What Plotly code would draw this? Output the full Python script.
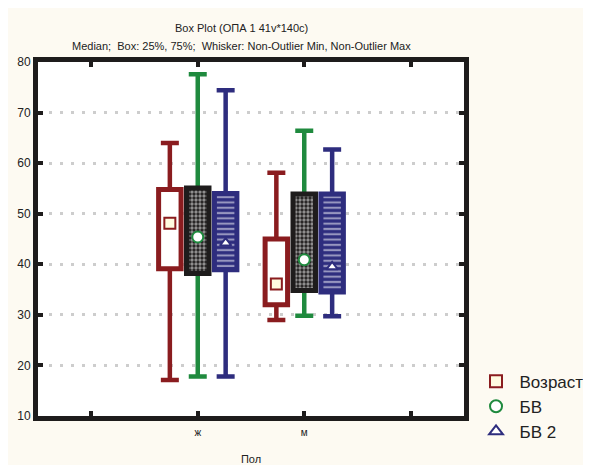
import plotly.graph_objects as go

# ---------------- data ----------------
categories = ["ж", "м"]
tick_labels = ["", "ж", "м", ""]
series_names = ["Возраст", "БВ", "БВ 2"]

age_median = [48.1, 36.1]
age_q1 = [39.1, 32.0]
age_q3 = [54.8, 45.0]
age_min = [17.1, 29.0]
age_max = [64.0, 58.1]

bv_median = [45.4, 40.9]
bv_q1 = [38.2, 34.8]
bv_q3 = [55.1, 53.9]
bv_min = [17.8, 29.8]
bv_max = [77.6, 66.4]

bv2_median = [44.2, 39.5]
bv2_q1 = [38.9, 34.5]
bv2_q3 = [54.0, 53.9]
bv2_min = [17.8, 29.7]
bv2_max = [74.4, 62.7]

y_ticks = [10, 20, 30, 40, 50, 60, 70, 80]

# ---------------- styling ----------------
RED = "#8A1C1F"
GREEN = "#1F8A3E"
BLUE = "#2E2D7E"
BLACK = "#1E1C1C"
FONT = "Liberation Sans, Arial, sans-serif"

group_offsets = [-0.262, 0.0, 0.262]
box_width = 0.211
base_pos = [tick_labels.index(c) for c in categories]

series = [
    dict(name=series_names[0], med=age_median, q1=age_q1, q3=age_q3, lo=age_min, hi=age_max,
         whisker=RED, edge=RED, fill="white", pattern=None,
         msym="square", msize=11, mfill="#FFFAE0", mline=RED),
    dict(name=series_names[1], med=bv_median, q1=bv_q1, q3=bv_q3, lo=bv_min, hi=bv_max,
         whisker=GREEN, edge=BLACK, fill=BLACK,
         pattern=dict(shape=".", fgcolor="white", bgcolor=BLACK, size=4, solidity=0.55),
         msym="circle", msize=11, mfill="white", mline=GREEN),
    dict(name=series_names[2], med=bv2_median, q1=bv2_q1, q3=bv2_q3, lo=bv2_min, hi=bv2_max,
         whisker=BLUE, edge=BLUE, fill=BLUE,
         pattern=dict(shape="-", fgcolor="white", bgcolor=BLUE, size=5.3, solidity=0.4),
         msym="triangle-up", msize=10, mfill="white", mline=BLUE),
]

fig = go.Figure()

# whiskers (base subplot, drawn below the boxes)
for s, off in zip(series, group_offsets):
    xs = [p + off for p in base_pos]
    fig.add_trace(go.Scatter(
        x=xs, y=s["med"], mode="markers",
        marker=dict(size=1, color="rgba(0,0,0,0)"),
        error_y=dict(type="data", symmetric=False,
                     array=[h - m for h, m in zip(s["hi"], s["med"])],
                     arrayminus=[m - l for m, l in zip(s["med"], s["lo"])],
                     color=s["whisker"], thickness=4.5, width=9),
        showlegend=False, hoverinfo="skip", xaxis="x", yaxis="y",
    ))

# boxes (overlay subplot, on top of whiskers)
for s, off in zip(series, group_offsets):
    xs = [p + off for p in base_pos]
    marker = dict(color=s["fill"], line=dict(color=s["edge"], width=5))
    if s["pattern"]:
        marker["pattern"] = s["pattern"]
    fig.add_trace(go.Bar(
        x=xs, base=s["q1"], y=[b - a for a, b in zip(s["q1"], s["q3"])],
        width=box_width, marker=marker, showlegend=False, hoverinfo="skip",
        xaxis="x2", yaxis="y2",
    ))

# medians
for s, off in zip(series, group_offsets):
    xs = [p + off for p in base_pos]
    fig.add_trace(go.Scatter(
        x=xs, y=s["med"], mode="markers", name=s["name"],
        marker=dict(symbol=s["msym"], size=s["msize"], color=s["mfill"],
                    line=dict(color=s["mline"], width=2)),
        xaxis="x2", yaxis="y2",
    ))

xr = [-0.5, len(tick_labels) - 0.5]
yr = [y_ticks[0], y_ticks[-1]]

fig.update_layout(
    width=591, height=465,
    margin=dict(l=29.6, r=134.7, t=53.6, b=56.6, autoexpand=False),
    paper_bgcolor="#FDFAF2",
    plot_bgcolor="white",
    font=dict(family=FONT, color="#222222"),
    barmode="overlay",
    showlegend=True,
    legend=dict(x=1.02, y=0.148, xanchor="left", yanchor="top",
                font=dict(size=17, family=FONT, color="#222222"),
                bgcolor="rgba(0,0,0,0)", itemsizing="constant", itemwidth=37),
    xaxis=dict(range=xr, tickmode="array", tickvals=list(range(len(tick_labels))),
               ticktext=tick_labels, showline=True, linewidth=5, linecolor=BLACK,
               mirror="allticks", ticks="inside", ticklen=5, tickwidth=4, tickcolor=BLACK,
               showgrid=False, zeroline=False, tickfont=dict(size=10),
               ticklabelstandoff=3, automargin=False,
               title=dict(text="Пол", font=dict(size=11), standoff=20)),
    yaxis=dict(range=yr, tickmode="array", tickvals=y_ticks,
               showline=True, linewidth=5, linecolor=BLACK,
               mirror="allticks", ticks="inside", ticklen=5, tickwidth=4, tickcolor=BLACK,
               showgrid=True, gridcolor="#CDCDCD", griddash="3px,8px", gridwidth=3,
               zeroline=False, tickfont=dict(size=12), automargin=False),
    xaxis2=dict(range=xr, overlaying="x", visible=False, showgrid=False),
    yaxis2=dict(range=yr, overlaying="y", visible=False, showgrid=False),
    annotations=[
        dict(text="Box Plot (ОПА 1 41v*140c)", xref="paper", yref="paper",
             x=0.477, y=1.0, yshift=33.6, xanchor="center", yanchor="middle",
             showarrow=False, font=dict(size=11, family=FONT, color="#222222")),
        dict(text="Median;  Box: 25%, 75%;  Whisker: Non-Outlier Min, Non-Outlier Max",
             xref="paper", yref="paper", x=0.477, y=1.0, yshift=15.6,
             xanchor="center", yanchor="middle",
             showarrow=False, font=dict(size=11, family=FONT, color="#222222")),
    ],
)

fig.write_html("out.html")
